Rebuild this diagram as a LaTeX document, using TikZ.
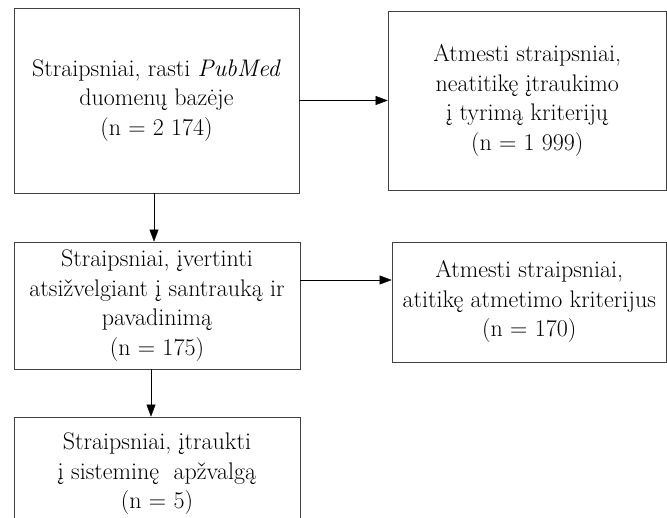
\documentclass[tikz,border=0pt]{standalone}
\usepackage{fontspec}
\usetikzlibrary{arrows.meta}
\tikzset{%
  >={Triangle[width=9bp,length=12bp]},
  % Specifications for style of nodes:
  base/.style = {
    draw=black!75,
    line width=0.8bp,
    inner sep=0pt,
    text centered,
    align=center,
    font=\fontsize{24bp}{29.5bp}\selectfont
  },
  action/.style={base, rectangle},
}
\begin{document}
\begin{tikzpicture}[x=1bp, y=-1bp]
  \useasboundingbox (0,0) rectangle (667,518);
  % nodes
  \node (found) [action, minimum width=285bp, minimum height=185bp] at (156.5,100.5)
  {Straipsniai, rasti \textit{PubMed} \\ duomenų bazėje \\ (n = 2 174)};
  \node (excl_crit) [action, minimum width=278.5bp, minimum height=179bp] at (527.25,100.5)
  {Atmesti straipsniai, \\ neatitikę įtraukimo \\ į tyrimą kriterijų \\ (n = 1 999)};
  \node (screened) [action, minimum width=286bp, minimum height=127bp] at (157,305.5)
  {Straipsniai, įvertinti \\ atsižvelgiant į santrauką ir \\ pavadinimą \\ (n = 175)};
  \node (excl_abs) [action, minimum width=274.5bp, minimum height=120bp] at (529.25,302)
  {Atmesti straipsniai, \\ atitikę atmetimo kriterijus \\ (n = 170)};
  \node (included) [action, minimum width=286bp, minimum height=114bp] at (157,474)
  {Straipsniai, įtraukti \\ į sisteminę~~apžvalgą \\ (n = 5)};
  % lines
  \draw[->] (found) -- (excl_crit);
  \draw[->] ([xshift=-2.5bp]found.south) -- ([xshift=-2.5bp]found.south |- screened.north);
  \draw[->] ([yshift=25.5bp]screened.east) coordinate (scr_out) -- (scr_out -| excl_abs.west);
  \draw[->] ([xshift=-6bp]screened.south) -- ([xshift=-6bp]screened.south |- included.north);
\end{tikzpicture}
\end{document}
